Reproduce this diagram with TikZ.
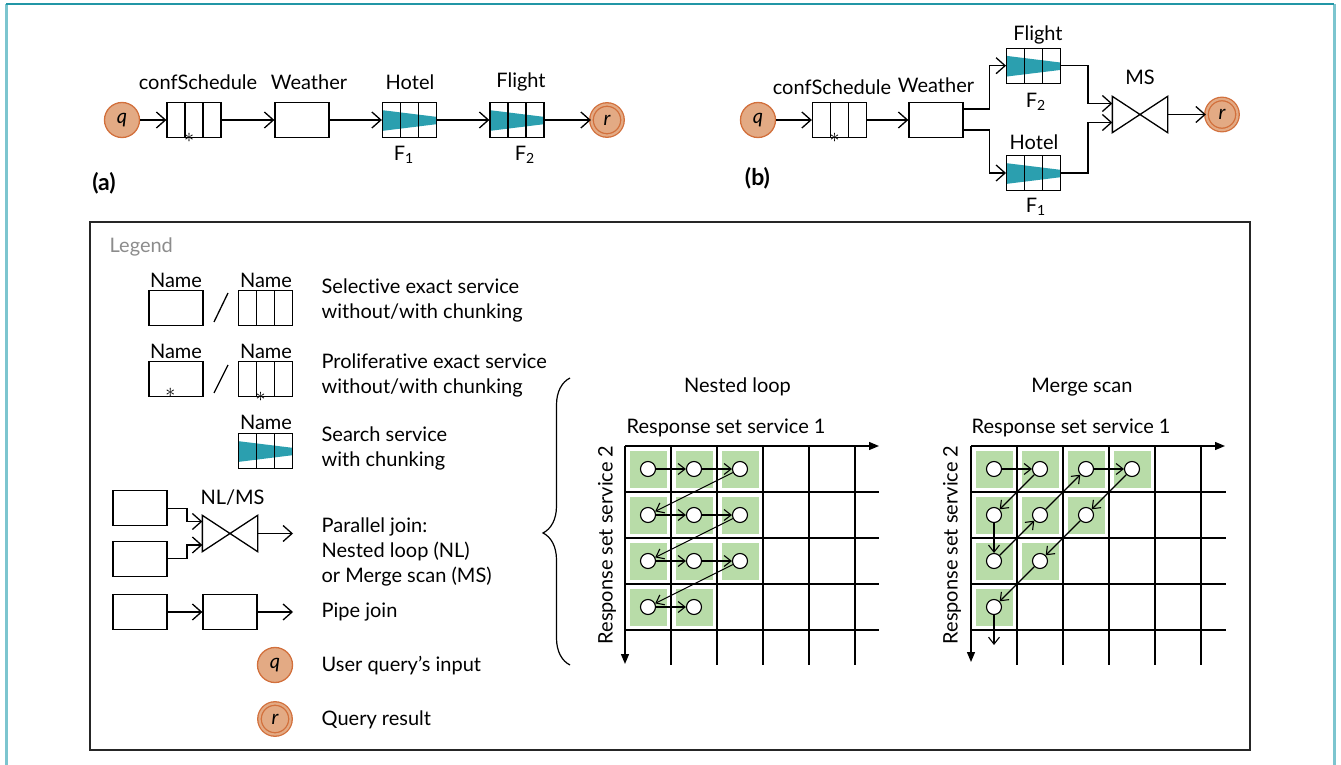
\documentclass[tikz,border=0pt]{standalone}
\usepackage{fontspec}
\setmainfont{Lato}[Ligatures=NoCommon]
\usepackage{tikz}
\usetikzlibrary{arrows.meta,calc,decorations.pathreplacing}

\definecolor{frameteal}{HTML}{2196A6}
\definecolor{framelight}{HTML}{7CC5CF}
\definecolor{searchteal}{HTML}{2B9FAF}
\definecolor{qfill}{HTML}{E3AA84}
\definecolor{qline}{HTML}{D2703C}
\definecolor{cellgreen}{HTML}{B8DCA8}
\definecolor{legendgray}{HTML}{8C8C8C}

\newcommand{\drawjoin}[1]{\draw (#1.north west) -- (#1.south east) -- (#1.north east) -- (#1.south west) -- cycle;}

\tikzset{
  svc/.style={draw, minimum width=27pt, minimum height=17.5pt, inner sep=0pt},
  chunk/.style={svc, path picture={
      \path (path picture bounding box.north west) coordinate (tl)
            (path picture bounding box.south east) coordinate (br);
      \foreach \f in {0.333,0.667}
        \draw ($(tl)!\f!(tl-|br)$) -- ($(tl|-br)!\f!(br)$);}},
  search/.style={svc, path picture={
      \path (path picture bounding box.north west) coordinate (tl)
            (path picture bounding box.south east) coordinate (br);
      \fill[searchteal] ($(tl)!0.22!(tl|-br)$) -- ($(tl-|br)!0.41!(br)$)
            -- ($(tl-|br)!0.62!(br)$) -- ($(tl)!0.81!(tl|-br)$) -- cycle;
      \foreach \f in {0.333,0.667}
        \draw ($(tl)!\f!(tl-|br)$) -- ($(tl|-br)!\f!(br)$);}},
  joinbox/.style={minimum width=27pt, minimum height=17.5pt, inner sep=0pt},
  qnode/.style={circle, draw=qline, fill=qfill, minimum size=17.5pt, inner sep=0pt, font=\itshape},
  rnode/.style={qnode, double=qfill, double distance=1.1pt, minimum size=15.5pt},
  ast/.style={inner sep=0pt},
  lbl/.style={inner sep=0pt},
  tag/.style={inner sep=0pt, font=\fontsize{11.5}{13}\selectfont\bfseries},
  txt/.style={inner sep=0pt, anchor=west, align=left},
  cell/.style={fill=cellgreen, minimum size=18.5pt, inner sep=0pt},
  dot/.style={circle, draw, fill=white, minimum size=7.5pt, inner sep=0pt, line width=0.55pt},
  arr/.style={-{Straight Barb[length=4.5pt,width=8pt]}},
  garr/.style={line width=0.55pt, -{Straight Barb[length=3.5pt,width=5.5pt]}},
  axis/.style={-{Triangle[length=5pt,width=4pt]}},
}

\begin{document}
\begin{tikzpicture}[x=0.5pt, y=-0.5pt, line width=0.65pt,
    font=\fontsize{10}{12.5}\selectfont]
  \useasboundingbox (0,0) rectangle (1341,765);
  % frame
  \draw[framelight, line width=1.5pt] (6,4) -- (6,765);
  \draw[framelight, line width=1.5pt] (1334,4) -- (1334,765);
  \draw[frameteal, line width=1pt] (6,4.5) -- (1334,4.5);

  % (a) sequential plan
  \node[qnode] (qa) at (122,120) {q};
  \node[chunk] (csa) at (194,120) {};
  \node[svc] (wa) at (302,120) {};
  \node[search] (ha) at (409.5,120) {};
  \node[search] (fa) at (517,120) {};
  \node[rnode] (ra) at (607,120) {r};
  \node[ast] (sa) at ($(csa.south west)!0.41!(csa.south east)$) {$\ast$};
  \node[lbl] (csal) at (198,82) {confSchedule};
  \node[lbl] (wal) at (309,82) {Weather};
  \node[lbl] (hal) at (410,82) {Hotel};
  \node[lbl] (fal) at (521,82) {Flight};
  \node[lbl] (f1a) at (404,155) {F\textsubscript{1}};
  \node[lbl] (f2a) at (525,155) {F\textsubscript{2}};
  \node[tag] (la) at (104,183) {(a)};
  \draw[arr] (qa) -- (csa);
  \draw[arr] (csa) -- (wa);
  \draw[arr] (wa) -- (ha);
  \draw[arr] (ha) -- (fa);
  \draw[arr] (fa) -- (ra);

  % (b) parallel plan
  \node[qnode] (qb) at (758,120) {q};
  \node[chunk] (csb) at (839.5,120) {};
  \node[svc] (wb) at (936,120) {};
  \node[search] (fb) at (1033.7,65.7) {};
  \node[search] (hb) at (1033.7,173) {};
  \node[joinbox] (msb) at (1140,114.5) {};
  \node[rnode] (rb) at (1222,114.5) {r};
  \node[ast] (sb) at ($(csb.south west)!0.41!(csb.south east)$) {$\ast$};
  \node[lbl] (csbl) at (832,87) {confSchedule};
  \node[lbl] (wbl) at (936,85) {Weather};
  \node[lbl] (fbl) at (1038,35) {Flight};
  \node[lbl] (f2b) at (1036,102) {F\textsubscript{2}};
  \node[lbl] (hbl) at (1034,142) {Hotel};
  \node[lbl] (f1b) at (1036,207) {F\textsubscript{1}};
  \node[lbl] (msl) at (1140,77) {MS};
  \node[tag] (lb) at (757.5,178) {(b)};
  \drawjoin{msb}
  \draw[arr] (qb) -- (csb);
  \draw[arr] (csb) -- (wb);
  \draw[arr] ($(wb.east)+(0,-11)$) -- ++(26,0) |- (fb.west);
  \draw[arr] ($(wb.east)+(0,10)$) -- ++(26,0) |- (hb.west);
  \draw[arr] (fb.east) -- ++(26.5,0) |- ($(msb.west)+(0,-11)$);
  \draw[arr] (hb.east) -- ++(26.5,0) |- ($(msb.west)+(0,8)$);
  \draw[arr] (msb.east) -- (rb);

  % legend
  \draw[line width=0.7pt, black!85] (90,222) rectangle (1250,750);
  \node[txt, text=legendgray] (leg) at (109,247) {Legend};

  \node[svc] (l1a) at (176,308) {};
  \node[chunk] (l1b) at (265.7,308) {};
  \node[lbl] at (176,280) {Name};
  \node[lbl] at (266,280) {Name};
  \draw (214,322) -- (228,293);
  \node[txt] (t1) at (321,300) {Selective exact service\\without/with chunking};

  \node[svc] (l2a) at (176,379) {};
  \node[chunk] (l2b) at (265.7,379) {};
  \node[ast] (s2a) at ($(l2a.south west)!0.4!(l2a.south east)+(0,-4)$) {$\ast$};
  \node[ast] (s2b) at ($(l2b.south west)!0.41!(l2b.south east)$) {$\ast$};
  \node[lbl] at (176,351.7) {Name};
  \node[lbl] at (266,351.7) {Name};
  \draw (214,393) -- (228,365);
  \node[txt] (t2) at (321,375) {Proliferative exact service\\without/with chunking};

  \node[search] (l3) at (265.7,451) {};
  \node[lbl] at (266,422.7) {Name};
  \node[txt] (t3) at (321,448.5) {Search service\\with chunking};

  \node[svc] (l4a) at (140,508.3) {};
  \node[svc] (l4b) at (140,558.7) {};
  \node[joinbox] (l4j) at (230,533.5) {};
  \coordinate (l4o) at (293,533.5);
  \node[lbl] at (232.5,498) {NL/MS};
  \drawjoin{l4j}
  \draw[arr] (l4a.east) -- ++(19.4,0) |- ($(l4j.west)+(0,-12)$);
  \draw[arr] (l4b.east) -- ++(19.4,0) |- ($(l4j.west)+(0,11.5)$);
  \draw[arr] (l4j.east) -- (l4o);
  \node[txt] (t4) at (321,551.7) {Parallel join:\\Nested loop (NL)\\or Merge scan (MS)};

  \node[svc] (l5a) at (140,612) {};
  \node[svc] (l5b) at (230,612) {};
  \coordinate (l5o) at (293,612);
  \draw[arr] (l5a) -- (l5b);
  \draw[arr] (l5b) -- (l5o);
  \node[txt] (t5) at (321,612) {Pipe join};

  \node[qnode] (lq) at (275,665) {q};
  \node[txt] (t6) at (321,666) {User query’s input};
  \node[rnode] (lr) at (275,719) {r};
  \node[txt] (t7) at (321,720) {Query result};

  \draw[line width=0.6pt, decorate, decoration={brace, amplitude=13.5pt, aspect=0.46}]
    (570,665) -- (570,378);

  % nested loop
  \node[lbl] (nlt) at (737.5,387) {Nested loop};
  \foreach \r/\m in {0/2,1/2,2/2,3/1}
    \foreach \c in {0,...,\m} {
      \node[cell] (nc\r\c) at (648+46*\c,469+46*\r) {};
    }
  \foreach \k in {1,...,5} \draw[line width=0.55pt] (625+46*\k,446) -- (625+46*\k,665);
  \foreach \k in {1,...,4} \draw[line width=0.55pt] (625,446+46*\k) -- (879,446+46*\k);
  \coordinate (no) at (625,446);
  \coordinate (nx) at (879,446);
  \coordinate (ny) at (625,664);
  \draw[axis] (no) -- (nx);
  \draw[axis] (no) -- (ny);
  \node[txt] (nxl) at (626,428) {Response set service 1};
  \node[lbl, rotate=90] (nyl) at (607,545) {Response set service 2};
  \foreach \r/\m in {0/2,1/2,2/2,3/1}
    \foreach \c in {0,...,\m} {
      \node[dot] (n\r\c) at (648+46*\c,469+46*\r) {};
    }
  \foreach \a/\b in {00/01,01/02,02/10,10/11,11/12,12/20,20/21,21/22,22/30,30/31}
    \draw[garr] (n\a) -- (n\b);

  % merge scan
  \node[lbl] (mst) at (1082,387) {Merge scan};
  \foreach \r/\m in {0/3,1/2,2/1,3/0}
    \foreach \c in {0,...,\m} {
      \node[cell] (mc\r\c) at (994+46*\c,469+46*\r) {};
    }
  \foreach \k in {1,...,5} \draw[line width=0.55pt] (971+46*\k,446) -- (971+46*\k,665);
  \foreach \k in {1,...,4} \draw[line width=0.55pt] (971,446+46*\k) -- (1226,446+46*\k);
  \coordinate (mo) at (971,446);
  \coordinate (mx) at (1225,446);
  \coordinate (my) at (971,662);
  \draw[axis] (mo) -- (mx);
  \draw[axis] (mo) -- (my);
  \node[txt] (mxl) at (971,428) {Response set service 1};
  \node[lbl, rotate=90] (myl) at (952,545) {Response set service 2};
  \foreach \r/\m in {0/3,1/2,2/1,3/0}
    \foreach \c in {0,...,\m} {
      \node[dot] (m\r\c) at (994+46*\c,469+46*\r) {};
    }
  \coordinate (mend) at (994,645);
  \foreach \a/\b in {00/01,01/10,10/20,20/11,11/02,02/03,03/12,12/21,21/30}
    \draw[garr] (m\a) -- (m\b);
  \draw[garr] (m30) -- (mend);
\end{tikzpicture}
\end{document}
